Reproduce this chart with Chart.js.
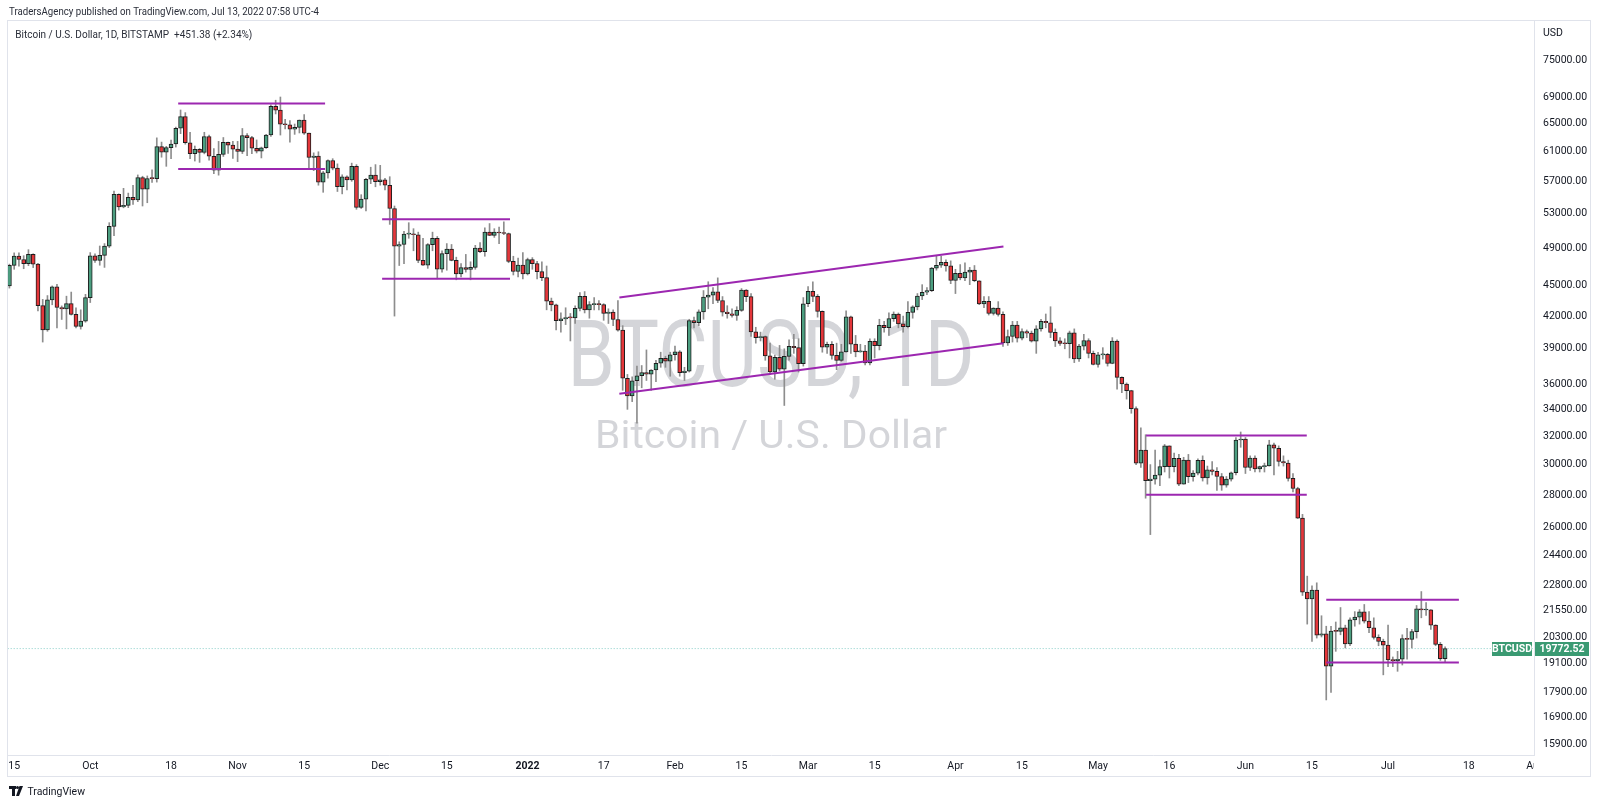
<!DOCTYPE html>
<html>
<head>
<meta charset="utf-8">
<script src="https://cdn.jsdelivr.net/npm/chart.js@4.4.1/dist/chart.umd.min.js"></script>
<style>
html,body{margin:0;padding:0;background:#fff;overflow:hidden}
#wrap{width:1600px;height:806px;position:relative}
</style>
</head>
<body>
<div id="wrap"><canvas id="c" width="1600" height="806"></canvas></div>
<script>
// ---------- DATA (BTCUSD daily, Bitstamp, 2021-09-14 .. 2022-07-13) ----------
const firstDate = '2021-09-14';

const openP = [
44960,47110,48130,47750,47300,48310,47250,43010,40700,43570,44890,42830,42700,43200,42170,41030,41520,
43790,48140,47660,48200,49220,51470,55340,53800,53970,54960,54660,57480,56010,57370,57350,61670,60880,61530,62030,64280,66000,62200,60690,61300,60860,63080,60330,58460,60590,62250,61880,
61320,61000,63230,62940,61430,61020,61510,63310,67550,66970,64880,64800,64150,64400,65470,63570,60160,60370,56890,58100,59750,58720,56300,57570,57170,58960,53730,54740,57270,57800,
56950,57190,56500,53600,49200,49400,50580,50600,50500,47650,47150,49390,50100,46720,48380,48890,47650,46200,46880,46690,46910,49000,48600,50820,50430,50800,50700,50640,47540,46470,47140,
46210,47740,47300,46450,45830,43450,43080,41560,41730,41870,41830,42740,43920,42590,43100,43180,43110,42250,42380,41680,40680,36480,35050,36280,36690,36960,36830,37170,37740,38170,37920,
38480,38740,36950,37080,41570,41380,42410,43840,44040,44370,43510,42380,42220,42060,42550,44560,43900,40530,40000,40100,38380,37010,38250,37250,38330,39210,39110,37710,
43190,44420,43920,42450,39140,39400,38420,37990,38730,41940,39420,38730,38810,37780,39670,39280,41120,40920,41760,42200,41260,41000,42360,42890,43960,44330,44500,46820,47130,47450,47060,
45530,46280,45800,46400,46620,45500,43170,43440,42250,42760,42160,39520,40100,41150,39940,40550,40410,39690,40800,41500,41370,40480,39710,39470,39450,40430,38110,39240,39740,38600,
37640,38470,38520,37720,39690,36550,36010,35470,34060,30090,31010,28930,29030,29290,29860,31300,29860,30420,28700,30300,29190,29430,30290,29100,29650,29540,29200,28630,29030,29450,31720,
31790,29800,30450,29700,29860,29910,31370,31130,30210,30110,29080,28420,26570,22470,22130,22580,20380,20450,19000,20570,20560,20720,19980,21100,21230,21490,21040,20730,20280,20100,
19930,19270,19240,19300,20230,20190,20550,21630,21580,21590,20850,19960,19321.14
];
const highP = [
47250,48470,48480,48160,48820,48370,47330,43620,44000,44970,45130,42980,43940,44350,42790,42600,44120,
48500,48360,49230,49500,51900,55750,55400,56100,55500,56500,57830,57660,57700,58500,62900,62300,61700,62600,64450,67000,66600,63700,61750,61400,63700,63290,61400,62400,62950,62300,62400,
62400,64250,63500,63100,62600,61600,63400,67800,68500,69000,65600,65400,64900,65500,66300,63600,60800,60950,58300,59850,60000,59300,57850,57700,59400,59200,55300,57400,58850,59200,
59100,57400,57600,53900,49700,50900,51900,51200,50800,50100,49500,50800,50300,48700,49500,49400,48000,47300,48300,47500,49300,49600,51300,51800,51200,51400,52000,50700,48100,47900,48500,
47900,47950,47550,47500,47050,43750,43150,42300,42800,42250,43000,44300,44400,43400,43800,43500,43200,42700,42600,43500,41100,36800,36600,37500,37550,38900,37200,38000,38700,38350,38700,
39250,38840,37400,41700,41900,42600,44500,45400,44800,45800,43900,43000,42700,42900,44700,44600,44200,40950,40500,40150,39500,38450,39300,39000,39800,40300,39900,43800,
44900,45400,44100,42500,39600,39650,39500,39400,42500,42000,40200,39400,39300,39900,39900,41700,41500,42300,42400,42300,42000,43400,43000,44200,45100,44800,46900,48200,48100,47700,47600,
46700,47200,47400,46900,47100,45500,43900,43900,42800,43400,42400,40700,41500,41500,40800,40700,40600,41100,41700,42200,42900,40800,40000,39900,40600,40800,39400,40300,39900,38800,
38700,39100,38600,40000,39800,36600,36100,35500,34200,32600,32100,30000,31000,30300,31400,31300,30800,30700,30500,30700,29600,30400,30600,29900,30200,29800,29400,29200,29500,31900,32300,
31900,30600,30600,29900,30100,31700,31500,31300,30600,30300,29400,28500,26800,23300,22800,22950,21300,20800,20800,21000,21700,20850,21200,21500,21600,21850,21500,21200,20400,20200,
20850,19400,19650,20400,20700,20650,21800,22500,21950,21600,20870,20050,19850
];
const lowP = [
44750,46700,47020,46760,47080,46880,42500,39600,40580,43090,40900,41680,40800,42100,40900,40780,41420,
43310,47420,47130,46900,49050,50400,53400,53680,53700,54100,54430,53900,54300,56850,56900,60200,58970,60000,61600,63500,62000,60000,59680,59500,60660,59800,58000,57800,60300,60720,60050,
59600,60700,60400,60700,60780,60100,61400,63100,66400,63300,64200,62300,63400,63600,63400,58600,58400,56500,55600,57400,58500,55700,55400,55900,57000,53500,53600,53300,56700,56300,
56500,55900,51700,42000,47100,47300,50100,48700,47400,47100,46800,48700,45700,46400,46600,47600,45600,45900,46400,45600,46700,48500,48100,50400,50200,49500,50500,47400,46100,45900,45700,
46100,46700,45700,45500,42600,42500,40700,40500,41200,39700,41300,42500,42300,41800,42600,42600,41600,41300,41100,40600,35500,34000,34600,32950,35700,36300,35500,36200,37400,37400,36650,
38000,36650,36300,37000,40900,41100,41700,42700,43200,43300,42000,41800,41900,41600,42450,43400,40100,39500,39700,38000,36800,36400,37100,34300,38000,38600,37000,37500,
42900,43400,41900,38700,38600,38100,37200,37900,38700,38600,38300,38700,37600,37600,38200,38900,40500,40200,41500,40900,40500,40900,41800,42600,43600,44100,44400,46600,46900,46500,45200,
44200,45600,45500,45100,45400,43100,42800,42100,42100,42000,39200,39300,39600,39600,39800,40000,39600,38600,40600,40900,40000,39200,39300,39000,38200,37800,37900,38900,38200,37600,
37400,38100,37500,37700,35600,35300,34800,33700,30000,29800,27800,25600,28700,28600,29500,29100,29500,28600,28700,28800,28900,29300,28900,28700,29300,28300,28300,28500,28900,29300,31200,
29400,29600,29500,29500,29500,29900,29300,29900,29900,28900,28200,26550,22300,20900,20100,20250,20300,17600,17900,19650,20400,19800,19900,20800,20900,20950,20500,20200,19900,18630,
18980,18980,18780,19050,19300,19800,20250,21200,21320,20650,19900,19250,19200
];
const closeP = [
47110,48130,47750,47300,48310,47250,43010,40700,43570,44890,42830,42700,43200,42170,41030,41520,43790,
48140,47660,48200,49220,51470,55340,53800,53970,54960,54660,57480,56010,57370,57350,61670,60880,61530,62030,64280,66000,62200,60690,61300,60860,63080,60330,58460,60590,62250,61880,61320,
61000,63230,62940,61430,61020,61510,63310,67550,66970,64880,64800,64150,64400,65470,63570,60160,60370,56890,58100,59750,58720,56300,57570,57170,58960,53730,54740,57270,57800,56950,
57190,56500,53600,49200,49400,50580,50600,50500,47650,47150,49390,50100,46720,48380,48890,47650,46200,46880,46690,46910,49000,48600,50820,50430,50800,50700,50640,47540,46470,47140,46210,
47740,47300,46450,45830,43450,43080,41560,41730,41870,41830,42740,43920,42590,43100,43180,43110,42250,42380,41680,40680,36480,35050,36280,36690,36960,36830,37170,37740,38170,37920,38480,
38740,36950,37080,41570,41380,42410,43840,44040,44370,43510,42380,42220,42060,42550,44560,43900,40530,40000,40100,38380,37010,38250,37250,38330,39210,39110,37710,43190,
44420,43920,42450,39140,39400,38420,37990,38730,41940,39420,38730,38810,37780,39670,39280,41120,40920,41760,42200,41260,41000,42360,42890,43960,44330,44500,46820,47130,47450,47060,45530,
46280,45800,46400,46620,45500,43170,43440,42250,42760,42160,39520,40100,41150,39940,40550,40410,39690,40800,41500,41370,40480,39710,39470,39450,40430,38110,39240,39740,38600,37640,
38470,38520,37720,39690,36550,36010,35470,34060,30090,31010,28930,29030,29290,29860,31300,29860,30420,28700,30300,29190,29430,30290,29100,29650,29540,29200,28630,29030,29450,31720,31790,
29800,30450,29700,29860,29910,31370,31130,30210,30110,29080,28420,26570,22470,22130,22580,20380,20450,19000,20570,20560,20720,19980,21100,21230,21490,21040,20730,20280,20100,19930,
19270,19240,19300,20230,20190,20550,21630,21580,21590,20850,19960,19321.14,19772.52
];

// x-axis tick dates and their labels
const tickDates  = ['2021-09-15','2021-10-01','2021-10-18','2021-11-01','2021-11-15','2021-12-01','2021-12-15','2022-01-01','2022-01-17','2022-02-01','2022-02-15','2022-03-01','2022-03-15','2022-04-01','2022-04-15','2022-05-01','2022-05-16','2022-06-01','2022-06-15','2022-07-01','2022-07-18'];
const tickLabels = ['15','Oct','18','Nov','15','Dec','15','2022','17','Feb','15','Mar','15','Apr','15','May','16','Jun','15','Jul','18'];
// price-axis tick values
const priceTicks = [75000,69000,65000,61000,57000,53000,49000,45000,42000,39000,36000,34000,32000,30000,28000,26000,24400,22800,21550,20300,19100,17900,16900,15900];

// drawn trend/box lines: [startBar, endBar, startPrice, endPrice] (bar index counted from firstDate)
const boxTop1 = [35.5, 66.4, 68000, 68000];
const boxBot1 = [35.5, 66.4, 58600, 58600];
const boxTop2 = [78.4, 105.3, 52300, 52300];
const boxBot2 = [78.4, 105.3, 45700, 45700];
const chanUp  = [128.3, 209.1, 43810, 49170];
const chanLow = [128.3, 209.1, 35220, 39500];
const boxTop4 = [239.1, 272.9, 32050, 32050];
const boxBot4 = [239.1, 272.9, 28020, 28020];
const boxTop5 = [277.0, 304.9, 22080, 22080];
const boxBot5 = [277.0, 304.9, 19160, 19160];

const lastPrice = 19772.52;
const changeAbs = 451.38, changePct = 2.34;

// ---------- helpers ----------
const DAY = 86400000;
const dayIndex = s => Math.round((Date.parse(s + 'T00:00:00Z') - Date.parse(firstDate + 'T00:00:00Z')) / DAY);
const tickIdx = tickDates.map(dayIndex);
const UP = '#4c9e80', DOWN = '#e4363a', OUTLINE = '#1e1e1e', WICK = '#8d8d8d', PURPLE = '#9c27b0';
const FONT = 'Roboto, "Noto Sans", "DejaVu Sans", sans-serif';

const bars = closeP.map((_, i) => i);
const wickData = bars.map(i => ({x: i, y: [lowP[i], highP[i]]}));
const bodyData = bars.map(i => ({x: i, y: [openP[i], closeP[i]]}));
const bodyColors = bars.map(i => closeP[i] >= openP[i] ? UP : DOWN);
const seg = s => [{x: s[0], y: s[2]}, {x: s[1], y: s[3]}];
const lineSets = [boxTop1, boxBot1, boxTop2, boxBot2, chanUp, chanLow, boxTop4, boxBot4, boxTop5, boxBot5].map(s => ({
  type: 'line', data: seg(s), borderColor: PURPLE, borderWidth: 2, pointRadius: 0, tension: 0, order: 0, clip: false
}));

function fitText(ctx, text, x, y, px, targetW, align, color, weight) {
  ctx.save();
  ctx.font = (weight || 'normal') + ' ' + px + 'px ' + FONT;
  ctx.fillStyle = color;
  ctx.textBaseline = 'alphabetic';
  const w = ctx.measureText(text).width;
  const s = targetW / w;
  ctx.translate(x, y);
  ctx.scale(s, 1);
  ctx.textAlign = align;
  ctx.fillText(text, 0, 0);
  ctx.restore();
}

const decor = {
  id: 'decor',
  beforeDraw(chart) {
    const ctx = chart.ctx;
    ctx.save();
    ctx.fillStyle = '#fff';
    ctx.fillRect(0, 0, chart.width, chart.height);
    // header line
    fitText(ctx, 'TradersAgency published on TradingView.com, Jul 13, 2022 07:58 UTC-4', 9, 14.5, 11, 310, 'left', '#2a2e39');
    // frame
    ctx.strokeStyle = '#e0e3eb';
    ctx.lineWidth = 1;
    ctx.strokeRect(7.5, 20.5, 1583, 756);
    ctx.restore();
  },
  beforeDatasetsDraw(chart) {
    const ctx = chart.ctx, a = chart.chartArea;
    ctx.save();
    ctx.beginPath(); ctx.rect(a.left, a.top, a.right - a.left, a.bottom - a.top); ctx.clip();
    const cx = (a.left + a.right) / 2;
    fitText(ctx, 'BTCUSD, 1D', cx, 385.7, 93, 407, 'center', 'rgba(135,138,150,0.36)');
    fitText(ctx, 'Bitcoin / U.S. Dollar', cx, 448, 39, 352, 'center', 'rgba(135,138,150,0.36)');
    ctx.restore();
  },
  afterDraw(chart) {
    const ctx = chart.ctx, a = chart.chartArea, ys = chart.scales.y, xs = chart.scales.x;
    ctx.save();
    // legend text
    fitText(ctx, 'Bitcoin / U.S. Dollar, 1D, BITSTAMP  +' + changeAbs.toFixed(2) + ' (+' + changePct.toFixed(2) + '%)', 15.3, 37.5, 10.5, 237, 'left', '#2a2e39');
    // currency label
    ctx.font = '10.5px ' + FONT; ctx.fillStyle = '#131722'; ctx.textBaseline = 'middle'; ctx.textAlign = 'left';
    ctx.fillText('USD', 1543, 33);
    // clipped "Aug" label at the right edge of time axis
    ctx.save();
    ctx.beginPath(); ctx.rect(a.left, a.bottom + 1, a.right - a.left, 21); ctx.clip();
    ctx.textAlign = 'center'; ctx.fillStyle = '#131722';
    ctx.fillText('Aug', xs.getPixelForValue(dayIndex('2022-08-01')), 766);
    ctx.restore();
    // last price labels
    const py = Math.round(ys.getPixelForValue(lastPrice));
    ctx.fillStyle = '#3a9a72';
    ctx.fillRect(1535, py - 7, 54, 14);
    ctx.fillRect(1492, py - 7, 40, 14);
    ctx.fillStyle = '#fff'; ctx.font = 'bold 10.5px ' + FONT; ctx.textBaseline = 'middle';
    ctx.textAlign = 'center';
    ctx.fillText(lastPrice.toFixed(2), 1562, py + 0.5);
    ctx.fillText('BTCUSD', 1512, py + 0.5);
    // TradingView logo
    ctx.fillStyle = '#131722';
    ctx.fillRect(9, 786, 7, 3);
    ctx.fillRect(12, 786, 3, 10);
    ctx.beginPath(); ctx.arc(17.5, 787.5, 1.5, 0, Math.PI * 2); ctx.fill();
    ctx.beginPath(); ctx.moveTo(19.5, 786); ctx.lineTo(23, 786); ctx.lineTo(19, 796); ctx.lineTo(16, 796); ctx.closePath(); ctx.fill();
    fitText(ctx, 'TradingView', 27.5, 795, 11, 57.5, 'left', '#131722');
    ctx.restore();
  }
};

new Chart(document.getElementById('c'), {
  data: {
    datasets: [
      ...lineSets,
      {type: 'bar', data: bodyData, backgroundColor: bodyColors, borderColor: OUTLINE, borderWidth: 1, borderSkipped: false,
       barThickness: 4, minBarLength: 1, grouped: false, order: 1},
      {type: 'bar', data: wickData, backgroundColor: WICK, borderWidth: 0, barThickness: 1, grouped: false, order: 2},
      {type: 'line', data: [{x: -1, y: lastPrice}, {x: 330, y: lastPrice}], borderColor: 'rgba(38,166,154,0.55)', borderWidth: 1,
       borderDash: [1, 2], pointRadius: 0, order: 3}
    ]
  },
  options: {
    responsive: false, animation: false, devicePixelRatio: 1,
    layout: {padding: {left: 8, top: 20, right: 10, bottom: 29}},
    plugins: {legend: {display: false}, tooltip: {enabled: false}},
    scales: {
      x: {
        type: 'linear', position: 'bottom', min: -0.3, max: 320.7, offset: false,
        grid: {display: false, drawTicks: false},
        border: {display: true, color: '#e0e3eb'},
        afterBuildTicks: s => { s.ticks = tickIdx.map(v => ({value: v})); },
        afterFit: s => { s.height = 22; },
        ticks: {
          autoSkip: false, maxRotation: 0, padding: 5, color: '#131722',
          font: c => ({family: FONT, size: 10.5, weight: (c.tick && c.tick.value === tickIdx[7]) ? 'bold' : 'normal'}),
          callback: v => { const k = tickIdx.indexOf(v); return k >= 0 ? tickLabels[k] : ''; }
        }
      },
      y: {
        type: 'logarithmic', position: 'right', min: 15536, max: 82153,
        grid: {display: false, drawTicks: false},
        border: {display: true, color: '#e0e3eb'},
        afterBuildTicks: s => { s.ticks = priceTicks.map(v => ({value: v})); },
        afterFit: s => { s.width = 56; },
        ticks: {autoSkip: false, padding: 9, color: '#131722', font: {family: FONT, size: 10.5},
          callback: v => Number(v).toFixed(2)}
      }
    }
  },
  plugins: [decor]
});
</script>
</body>
</html>
